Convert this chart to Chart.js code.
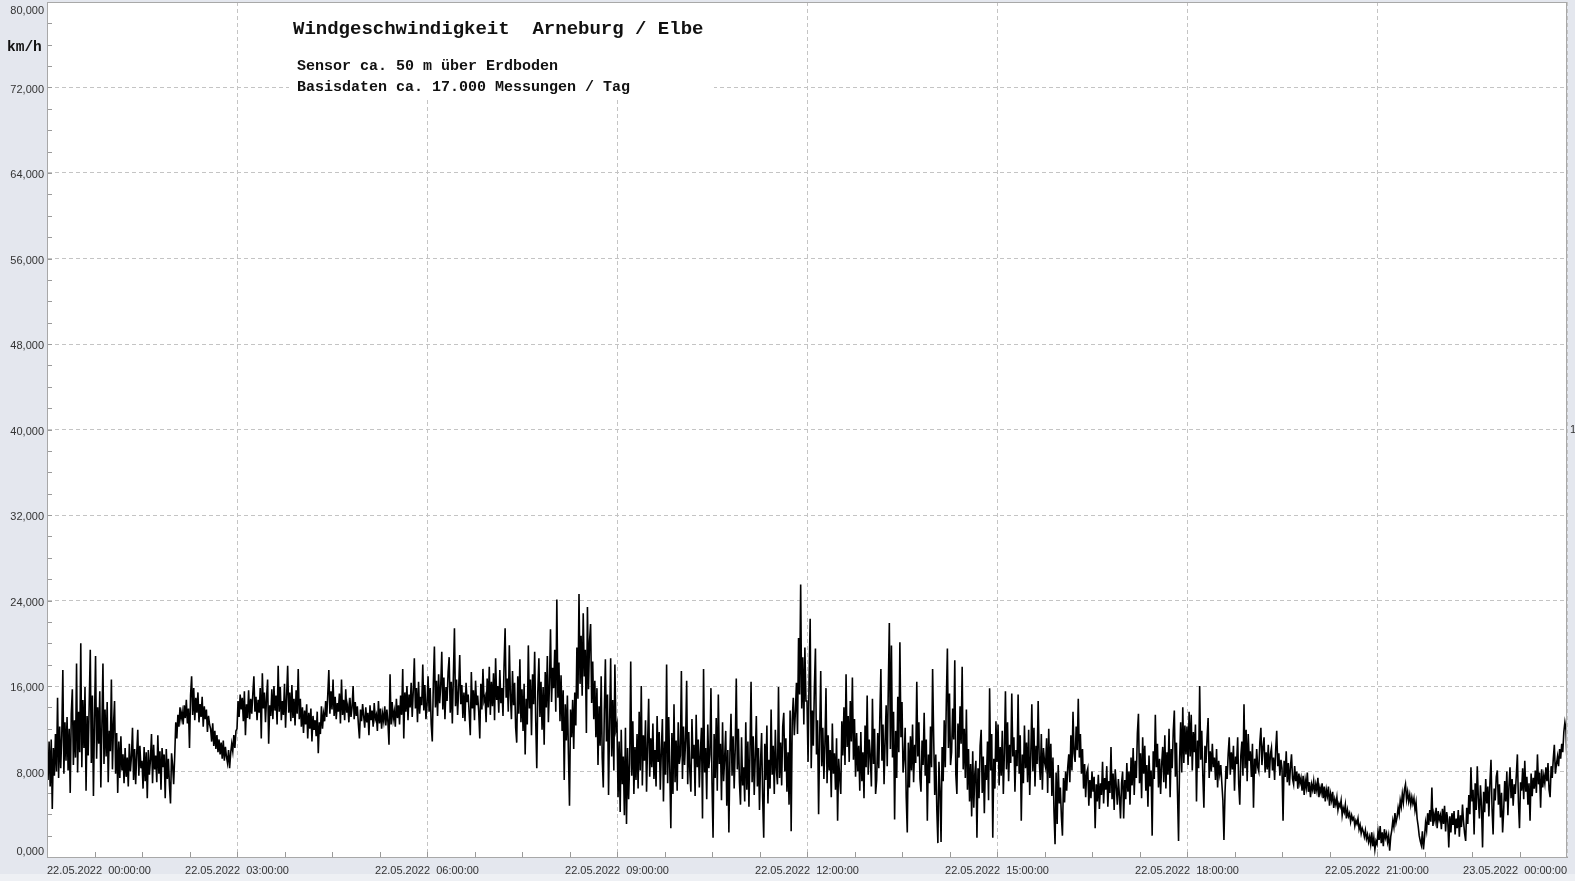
<!DOCTYPE html>
<html><head><meta charset="utf-8">
<script src="https://cdn.jsdelivr.net/npm/chart.js@4.4.0/dist/chart.umd.min.js"></script>
<style>html,body{margin:0;padding:0;background:#e4e7ee;overflow:hidden}</style>
</head><body>
<canvas id="c" width="1575" height="881"></canvas>
<script>
const titleText = "Windgeschwindigkeit  Arneburg / Elbe";
const subtitleLines = ["Sensor ca. 50 m über Erdboden", "Basisdaten ca. 17.000 Messungen / Tag"];
const unitLabel = "km/h";
const rightLabel = "1";
const xTickLabels = ["22.05.2022  00:00:00","22.05.2022  03:00:00","22.05.2022  06:00:00","22.05.2022  09:00:00","22.05.2022  12:00:00","22.05.2022  15:00:00","22.05.2022  18:00:00","22.05.2022  21:00:00","23.05.2022  00:00:00"];
const yTickValues = [0,8,16,24,32,40,48,56,64,72,80];
const stepMinutes = 1;

// wind speed km/h, one value per minute, in 3-hour blocks (60 values per line = 1 hour)
const speed_00_03 = [
9.6,7.2,10.8,6.6,11.0,4.5,10.2,7.6,11.5,8.0,14.9,7.4,12.2,8.3,11.4,17.5,7.8,12.6,9.0,13.1,8.1,12.0,6.0,13.4,15.7,8.6,12.8,9.3,18.1,7.9,13.6,9.8,20.0,8.4,14.7,10.2,15.9,6.2,13.2,9.5,14.4,19.4,8.8,15.1,5.7,12.9,18.8,9.2,14.0,10.6,15.5,6.5,12.3,18.1,8.7,13.8,9.4,14.5,7.0,11.8,
9.9,16.6,8.2,12.4,14.6,7.8,11.6,6.0,10.8,7.4,11.3,8.1,9.6,6.9,10.2,7.5,9.3,6.6,10.6,8.0,9.4,12.1,7.2,10.1,6.8,9.7,11.9,7.6,10.4,8.3,9.0,6.4,10.3,7.1,9.8,5.5,10.0,7.7,9.1,11.5,6.9,10.5,8.2,9.5,7.0,11.4,7.8,9.9,6.3,10.2,8.4,9.6,5.5,10.1,7.3,9.2,6.7,5.0,9.7,8.6,
6.8,9.5,12.6,11.1,13.3,12.2,14.0,12.9,13.6,12.4,14.2,13.0,14.7,12.5,13.9,10.2,15.1,16.9,13.3,15.8,12.8,14.9,13.5,15.4,12.6,14.3,13.1,15.0,12.2,14.1,12.9,13.8,11.7,13.2,12.4,12.0,10.8,12.5,10.4,11.8,10.1,11.4,9.8,11.0,9.6,10.7,9.2,10.9,9.0,10.3,9.4,8.8,10.0,8.3,9.7,10.6,9.9,11.4,10.2,11.8];
const speed_03_06 = [
12.0,14.6,13.1,15.2,13.8,14.9,12.7,15.5,11.4,14.3,13.0,15.6,12.9,14.8,13.4,15.3,16.9,13.6,15.0,12.8,14.7,13.5,15.8,11.1,17.2,13.9,15.4,12.6,14.9,16.6,10.6,14.2,13.2,15.7,12.9,16.0,13.7,15.1,12.4,17.9,13.6,15.9,12.8,14.6,13.3,16.2,12.1,15.0,17.9,13.5,15.4,12.7,16.1,13.0,14.8,12.3,15.6,13.4,17.6,12.9,
14.8,12.2,14.0,11.6,13.7,12.4,14.3,11.1,13.5,12.0,13.9,10.8,13.2,11.9,12.8,11.3,13.6,9.7,12.6,11.5,14.1,12.0,13.4,12.7,14.6,13.1,15.2,17.5,13.4,15.5,13.8,16.6,13.2,15.0,12.9,14.4,13.6,15.3,12.5,16.6,13.3,14.7,12.8,15.7,13.5,14.2,12.6,14.9,13.1,14.0,16.0,12.9,14.5,13.2,14.1,12.4,11.1,13.8,12.7,14.3,
13.2,12.1,14.0,12.6,13.5,11.4,14.2,12.8,13.7,12.2,14.4,12.9,13.3,11.8,14.6,12.5,13.9,12.0,13.4,12.7,14.1,12.3,13.8,12.6,10.5,17.1,12.4,14.5,12.9,13.6,12.2,14.8,13.0,14.2,12.4,15.1,13.3,17.6,11.1,15.4,13.6,16.0,12.8,15.2,14.0,16.3,13.1,15.6,18.6,13.9,15.8,12.6,16.4,13.4,15.0,14.2,18.0,13.7,16.1,12.9];
const speed_06_09 = [
14.2,16.9,13.6,15.8,12.4,10.8,16.2,19.7,14.0,16.5,13.2,17.1,14.4,16.0,19.2,13.8,16.8,12.9,15.9,14.6,17.3,18.7,13.5,16.4,12.5,17.0,21.4,14.1,16.6,13.3,15.7,18.9,14.3,16.1,13.0,15.4,12.7,16.3,14.5,15.2,13.4,11.4,17.3,13.9,15.6,12.8,16.5,14.2,15.1,13.6,11.1,16.2,13.8,17.6,14.6,15.0,12.6,16.7,14.0,17.8,
13.3,16.4,14.1,17.2,12.8,18.6,14.7,16.0,13.5,17.5,14.4,15.8,13.2,17.9,21.4,14.9,16.7,13.6,19.8,15.1,12.9,17.4,14.2,16.3,12.1,10.7,16.9,13.4,18.5,12.6,15.7,11.8,16.2,9.6,14.8,12.4,19.8,13.9,16.6,11.4,17.1,14.3,19.2,12.7,8.3,15.5,18.6,13.1,16.4,11.9,15.9,10.5,17.3,14.0,18.8,12.6,16.1,21.3,14.5,17.7,
15.8,19.4,13.6,24.1,14.9,18.2,12.7,17.0,11.8,15.6,7.2,14.3,10.9,15.1,9.6,4.8,13.8,11.2,14.7,10.1,15.4,12.3,19.6,14.8,24.6,16.2,20.7,15.1,22.8,16.9,19.4,11.6,23.4,15.7,20.2,21.8,14.4,18.3,12.9,16.5,11.2,15.8,8.6,14.1,10.4,16.9,9.3,6.5,13.7,18.5,10.8,15.2,5.8,12.6,18.6,9.4,14.7,8.1,18.0,11.9];
const speed_09_12 = [
12.4,5.6,10.8,4.2,11.9,6.8,9.4,3.9,12.1,3.1,10.2,5.4,8.8,18.3,7.6,12.7,5.9,10.3,7.2,11.5,6.4,13.6,8.1,16.0,6.7,11.4,9.0,12.8,6.1,10.6,14.8,7.5,11.1,8.4,12.5,7.3,10.0,6.6,13.2,8.9,11.7,6.3,9.9,12.9,5.2,10.8,7.7,18.0,6.9,13.1,8.2,2.7,11.6,5.9,14.3,7.0,10.9,6.2,12.6,8.7,
9.5,17.4,7.3,12.2,8.6,10.9,16.5,6.8,11.7,8.0,6.1,12.9,9.2,10.5,5.7,13.3,8.4,11.0,6.5,9.8,12.1,3.6,17.6,7.9,10.2,5.4,12.4,8.3,9.6,15.8,6.9,1.8,11.5,7.4,13.0,6.2,15.2,8.7,10.6,5.3,12.6,7.1,9.3,11.8,4.8,10.0,2.3,9.7,13.4,7.6,11.3,6.4,10.1,16.7,8.2,12.0,7.0,4.9,11.2,6.7,
8.4,5.2,12.6,6.3,10.8,4.7,9.9,16.4,7.0,11.3,5.8,9.4,13.2,6.6,10.2,4.4,8.9,11.6,5.5,1.8,10.6,7.2,12.3,5.0,9.1,6.4,13.8,7.7,10.4,5.9,11.9,8.2,6.8,15.9,7.4,10.7,6.7,12.2,13.5,8.0,11.1,6.1,9.8,4.9,13.7,2.4,12.8,14.9,11.4,13.6,16.3,11.5,20.5,15.2,25.5,13.9,18.7,12.4,19.6,14.6];
const speed_12_15 = [
14.6,8.9,16.8,22.3,8.3,13.7,10.4,15.9,19.5,9.6,12.8,4.0,11.2,17.4,8.5,12.1,7.3,10.6,15.8,6.9,11.4,8.1,10.0,5.6,12.5,7.8,9.7,6.3,11.1,3.4,9.2,7.4,5.9,12.7,9.5,14.0,8.6,17.1,10.3,13.2,8.9,14.6,10.8,16.8,9.1,12.9,7.5,11.6,8.0,10.4,6.2,11.7,7.1,9.8,5.5,12.3,8.4,15.1,7.7,11.0,
9.4,6.6,14.8,8.7,12.0,5.9,7.2,11.6,8.3,13.1,17.6,9.0,12.4,6.8,10.9,14.2,8.5,15.7,21.9,10.1,19.8,9.3,13.6,3.5,11.8,7.4,15.0,9.8,20.1,11.2,14.5,7.9,9.2,12.1,5.6,2.3,10.7,6.5,11.3,8.1,12.4,7.0,10.5,8.8,16.4,9.4,12.6,7.3,6.1,10.9,8.6,13.5,7.6,11.0,3.4,9.6,6.9,12.2,8.4,17.6,
11.2,5.8,9.6,4.4,1.3,8.9,6.2,1.4,10.3,7.1,12.8,8.4,14.6,19.5,10.2,15.3,8.6,9.8,13.9,11.0,18.4,7.7,5.9,12.5,9.3,14.1,10.6,17.8,8.2,12.0,7.4,13.8,6.3,10.1,5.2,8.7,3.8,9.9,4.6,7.8,9.0,1.8,8.3,5.5,10.4,11.9,6.0,9.4,4.1,8.6,7.2,10.8,5.3,15.8,8.1,11.5,1.8,9.2,6.4,12.7];
const speed_15_18 = [
8.9,12.4,6.7,10.3,7.6,11.8,5.9,9.8,15.5,8.2,12.6,7.1,10.5,8.8,15.3,9.4,11.2,6.1,10.0,8.5,15.2,7.8,11.4,3.4,9.6,6.9,12.3,8.3,10.7,7.0,11.9,5.8,9.5,14.3,8.0,12.1,6.6,10.4,8.7,14.6,9.1,7.2,11.5,6.3,10.2,8.9,8.4,11.1,6.0,12.0,7.4,10.6,5.7,9.3,4.2,1.2,7.9,3.1,8.6,5.0,
6.5,3.8,2.0,7.4,5.1,8.0,6.2,8.4,9.6,7.0,11.4,8.1,13.6,9.7,8.9,12.2,10.0,14.8,9.3,11.5,7.8,10.1,6.4,8.7,5.6,7.9,8.3,4.8,7.2,5.5,8.0,6.1,7.5,2.7,6.8,5.2,7.7,4.5,6.9,5.8,8.9,5.0,7.4,6.3,8.5,4.7,7.1,6.0,10.3,5.4,7.8,4.4,8.2,6.6,4.9,7.3,5.7,3.6,6.9,8.0,
3.6,7.2,5.4,8.8,6.1,8.0,4.9,9.3,6.7,10.2,5.8,9.0,7.4,11.6,13.4,6.9,9.7,5.5,11.2,7.8,10.4,6.2,8.6,4.7,9.5,6.6,8.1,2.0,9.9,7.3,13.3,8.4,10.6,6.5,9.2,5.9,8.7,10.3,7.0,11.4,6.4,9.8,7.7,12.0,5.6,10.1,8.3,11.8,13.7,7.5,10.7,6.0,1.5,9.1,12.6,7.9,14.0,8.8,12.3,9.6];
const speed_18_21 = [
12.2,8.6,13.6,9.4,13.3,8.1,11.7,9.8,12.4,5.2,10.9,8.3,16.0,9.1,11.8,7.6,4.6,10.4,8.8,11.1,13.0,7.4,9.9,8.0,10.6,8.4,9.3,7.2,10.1,6.5,9.0,7.8,8.6,6.9,5.3,1.6,6.0,8.5,7.3,9.6,11.2,7.7,9.8,8.2,10.4,6.2,9.4,8.7,11.2,6.8,4.9,9.5,10.8,7.6,14.3,8.3,11.9,7.1,11.5,9.0,
9.9,7.5,10.6,4.6,9.2,7.8,10.1,8.4,8.0,10.7,12.1,8.6,10.3,11.2,7.9,9.8,8.2,10.5,7.4,9.6,10.2,8.1,9.3,7.2,10.0,11.8,8.5,9.7,7.6,9.1,8.3,3.4,9.0,7.5,9.9,7.0,8.8,6.7,8.4,9.6,7.3,6.8,8.5,7.1,8.0,6.4,7.8,6.9,7.4,6.2,7.6,5.8,7.2,6.5,7.9,6.1,7.0,5.6,6.8,6.3,
7.1,5.9,6.8,6.2,7.4,5.6,6.5,6.0,6.9,5.5,6.6,5.2,6.3,5.7,6.6,4.8,5.9,5.3,6.1,4.6,5.4,4.9,5.6,4.4,5.0,4.7,5.3,3.9,4.6,4.2,4.9,3.6,4.4,3.8,4.1,3.3,3.9,3.5,3.7,2.9,3.4,3.1,3.6,2.6,3.0,2.2,2.7,2.4,1.9,2.5,1.7,2.1,1.4,1.9,1.2,2.3,1.0,1.8,0.7,1.5];
const speed_21_24 = [
1.2,2.4,1.6,2.9,1.3,2.3,1.0,2.6,1.8,2.2,1.4,2.0,0.6,1.9,2.5,3.4,2.8,4.1,3.2,3.7,4.6,4.0,5.3,4.7,5.9,5.1,6.3,6.8,5.4,6.1,5.2,5.8,4.9,5.6,5.0,5.5,4.4,5.1,3.6,2.9,2.0,1.5,1.1,2.4,0.7,1.8,3.2,2.5,4.1,3.0,4.4,3.3,6.5,2.9,4.0,3.4,4.6,2.7,4.3,3.5,
3.9,2.6,4.5,3.1,4.8,2.4,4.2,3.5,0.9,3.8,2.3,4.1,3.0,4.3,2.1,3.6,2.7,4.4,1.9,3.9,2.8,4.9,3.3,2.2,1.5,4.6,3.1,5.8,4.0,8.4,5.2,6.3,2.1,6.9,4.4,8.5,5.5,3.6,6.7,4.8,0.9,6.1,4.2,7.3,5.0,6.6,3.8,7.0,9.1,4.5,2.1,6.4,5.3,7.5,8.1,4.9,6.8,3.7,6.0,2.3,
4.3,7.1,5.2,8.0,3.9,6.6,8.4,5.5,7.3,4.8,6.8,5.9,7.7,9.6,5.1,2.7,7.0,6.2,8.3,5.4,9.0,6.1,7.5,4.9,6.9,3.4,7.8,5.7,7.4,6.4,8.1,6.0,9.6,6.8,7.9,4.6,8.2,6.5,7.6,6.9,8.4,7.1,8.8,6.3,5.6,8.5,7.4,9.2,10.5,7.8,8.7,9.4,8.5,10.1,9.2,10.6,9.8,11.7,12.6,11.9,
8.8];

const speed = [].concat(speed_00_03, speed_03_06, speed_06_09, speed_09_12, speed_12_15, speed_15_18, speed_18_21, speed_21_24);
const points = speed.map((v, i) => ({x: i * stepMinutes, y: v}));

const LABEL_FONT = '11px "Liberation Sans", Arial, sans-serif';
const MONO = '"Courier New", "Liberation Mono", monospace';

const decor = {
  id: 'decor',
  beforeDraw(chart) {
    const {ctx, chartArea: a} = chart;
    ctx.save();
    ctx.fillStyle = '#e4e7ee';
    ctx.fillRect(0, 0, chart.width, chart.height);
    ctx.fillStyle = '#eef0f4';
    ctx.fillRect(0, 874, chart.width, chart.height - 874);
    ctx.fillStyle = '#ffffff';
    ctx.fillRect(a.left, a.top, a.right - a.left, a.bottom - a.top);
    ctx.restore();
  },
  beforeDatasetsDraw(chart) {
    const {ctx, chartArea: a, scales} = chart;
    ctx.save();
    ctx.fillStyle = '#ffffff';
    ctx.fillRect(289, a.top + 1, 425, 97 - a.top);
    ctx.strokeStyle = '#9a9a9a';
    ctx.lineWidth = 1;
    ctx.beginPath();
    for (let v = 2; v < 80; v += 2) {
      const y = Math.round(scales.y.getPixelForValue(v)) + 0.5;
      ctx.moveTo(a.left, y); ctx.lineTo(a.left + 5, y);
    }
    for (let m = 45; m < 1440; m += 45) {
      const x = Math.round(scales.x.getPixelForValue(m)) + 0.5;
      ctx.moveTo(x, a.bottom); ctx.lineTo(x, a.bottom - 5);
    }
    ctx.stroke();
    ctx.restore();
  },
  afterDraw(chart) {
    const {ctx, chartArea: a, scales} = chart;
    ctx.save();
    ctx.strokeStyle = '#a8a8a8';
    ctx.lineWidth = 1;
    ctx.strokeRect(a.left + 0.5, a.top + 0.5, a.right - a.left - 1, a.bottom - a.top);
    ctx.font = LABEL_FONT;
    ctx.fillStyle = '#333';
    ctx.textAlign = 'right';
    ctx.textBaseline = 'middle';
    yTickValues.forEach(v => {
      let y = scales.y.getPixelForValue(v) + 2;
      y = Math.max(10.5, Math.min(851.5, y));
      ctx.fillText(v.toFixed(3).replace('.', ','), a.left - 3, y);
    });
    ctx.textAlign = 'left';
    ctx.fillText(rightLabel, a.right + 3, scales.y.getPixelForValue(40));
    ctx.font = 'bold 14.5px ' + MONO;
    ctx.fillStyle = '#111';
    ctx.fillText(unitLabel, 7, 47);
    ctx.font = 'bold 19px ' + MONO;
    ctx.fillText(titleText, 293, 29);
    ctx.font = 'bold 15px ' + MONO;
    ctx.fillText(subtitleLines[0], 297, 66);
    ctx.fillText(subtitleLines[1], 297, 87);
    ctx.restore();
  }
};

new Chart(document.getElementById('c'), {
  type: 'line',
  data: {
    datasets: [{
      data: points,
      borderColor: '#000',
      borderWidth: 1.6,
      pointRadius: 0,
      tension: 0,
      fill: false
    }]
  },
  options: {
    responsive: false,
    animation: false,
    parsing: false,
    normalized: true,
    layout: {padding: {top: 2, right: 8, left: 0, bottom: 0}},
    plugins: {legend: {display: false}, tooltip: {enabled: false}, title: {display: false}},
    scales: {
      x: {
        type: 'linear', min: 0, max: 1440,
        afterFit: s => { s.height = 24; },
        ticks: {
          stepSize: 180, autoSkip: false, maxRotation: 0, align: 'inner', padding: 7,
          color: '#333', font: {family: '"Liberation Sans", Arial, sans-serif', size: 11},
          callback: v => xTickLabels[Math.round(v / 180)]
        },
        grid: {color: '#c4c4c4', drawTicks: false, lineWidth: 1},
        border: {display: true, color: '#a0a0a0', dash: [4, 3]}
      },
      y: {
        type: 'linear', min: 0, max: 80,
        afterFit: s => { s.width = 47; },
        ticks: {stepSize: 8, display: false},
        grid: {color: '#c4c4c4', drawTicks: false, lineWidth: 1},
        border: {display: true, color: '#a0a0a0', dash: [4, 3]}
      }
    }
  },
  plugins: [decor]
});
</script>
</body></html>
